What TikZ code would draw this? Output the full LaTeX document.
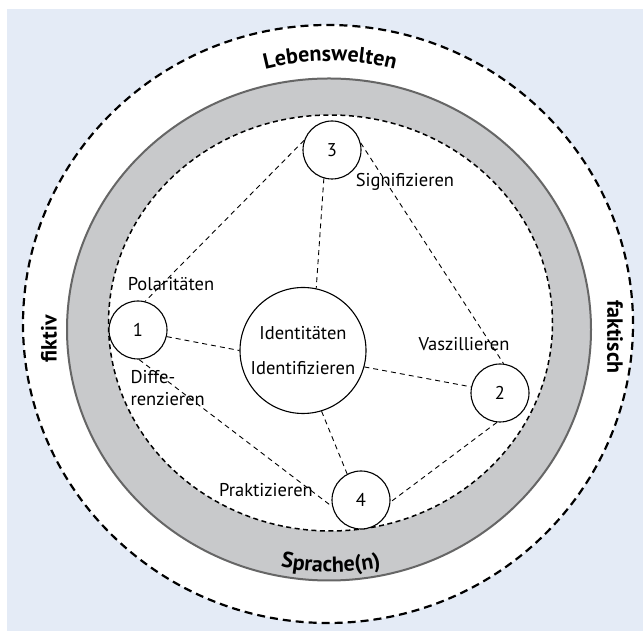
\documentclass[tikz,border=0pt]{standalone}
\usepackage{fontspec}
\setmainfont{PT Sans}
\usetikzlibrary{decorations.text}
\definecolor{hintergrund}{HTML}{E4EBF6}
\definecolor{ringgrau}{HTML}{C8C9CB}
\definecolor{randgrau}{HTML}{666666}
\newcommand{\weltfont}{\fontsize{22}{25}\selectfont\bfseries}
\tikzset{
  kreis/.style={circle, draw, fill=white, line width=1.1pt, minimum size=58pt, inner sep=0pt, font=\fontsize{18.5}{22}\selectfont},
  verbindung/.style={line width=0.9pt, dash pattern=on 5pt off 4pt},
  beschriftung/.style={font=\fontsize{18.5}{22}\selectfont},
  welt/.style={font=\weltfont}
}
\begin{document}
\begin{tikzpicture}[x=1pt,y=1pt]
        \useasboundingbox (0,0) rectangle (643,631);
        %%%%%%%%% Hintergrund %%%%%%%%%
        \fill[hintergrund] (7,0) rectangle (643,622);
        \draw[fill=white, line width=2.2pt, dash pattern=on 8pt off 5pt] (328,307) ellipse [x radius=305, y radius=299];
        \draw[fill=ringgrau, draw=randgrau, line width=2pt] (329,301.5) ellipse [x radius=262, y radius=251];
        \draw[fill=white, line width=1.5pt, dash pattern=on 5pt off 3.5pt] (330.5,308) ellipse [x radius=222, y radius=208];

        %%%%%%%%% Kreise %%%%%%%%%
        \node[kreis] (k1) at (138,301) {1};
        \node[kreis] (k2) at (500,238) {2};
        \node[kreis] (k3) at (332,481) {3};
        \node[kreis] (k4) at (361,131) {4};
        \node[kreis, minimum size=126pt, align=center] (mitte) at (303,280.5) {Identitäten\\[13pt]Identifizieren};

        %%%%%%%%% Verbindungen %%%%%%%%%
        \draw[verbindung] (k3.161) -- (k1.76);
        \draw[verbindung] (k3.254) -- (mitte.78);
        \draw[verbindung] (k3.14) -- (k2.83);
        \draw[verbindung] (k1.-13) -- (mitte.180);
        \draw[verbindung] (mitte.-15) -- (k2.168);
        \draw[verbindung] (mitte.-73) -- (k4.118);
        \draw[verbindung] (k1.-88) -- (k4.193);
        \draw[verbindung] (k2.-96) -- (k4.-4);

        %%%%%%%%% Testo %%%%%%%%%
        \node[beschriftung] (polar) at (171,347) {Polaritäten};
        \node[beschriftung] (signi) at (405,449) {Signifizieren};
        \node[beschriftung] (vaszi) at (464,287) {Vaszillieren};
        \node[beschriftung, anchor=west, align=left] (diffe) at (127,243) {Diffe-\\renzieren};
        \node[beschriftung] (prakt) at (266,141) {Praktizieren};
        \node[welt, rotate=90] (fiktiv) at (49,292) {fiktiv};
        \node[welt, rotate=-90] (faktisch) at (615,294) {faktisch};
        \path[decorate, decoration={text along path, text align=center, text={|\weltfont|Lebenswelten}}]
            (330,307) ++(150:263) arc[start angle=150, end angle=30, radius=263];
        \path[decorate, decoration={text along path, text align=center, text={|\weltfont|Sprache(n)}}]
            (331,307) ++(214:248) arc[start angle=214, end angle=326, radius=248];
\end{tikzpicture}
\end{document}
